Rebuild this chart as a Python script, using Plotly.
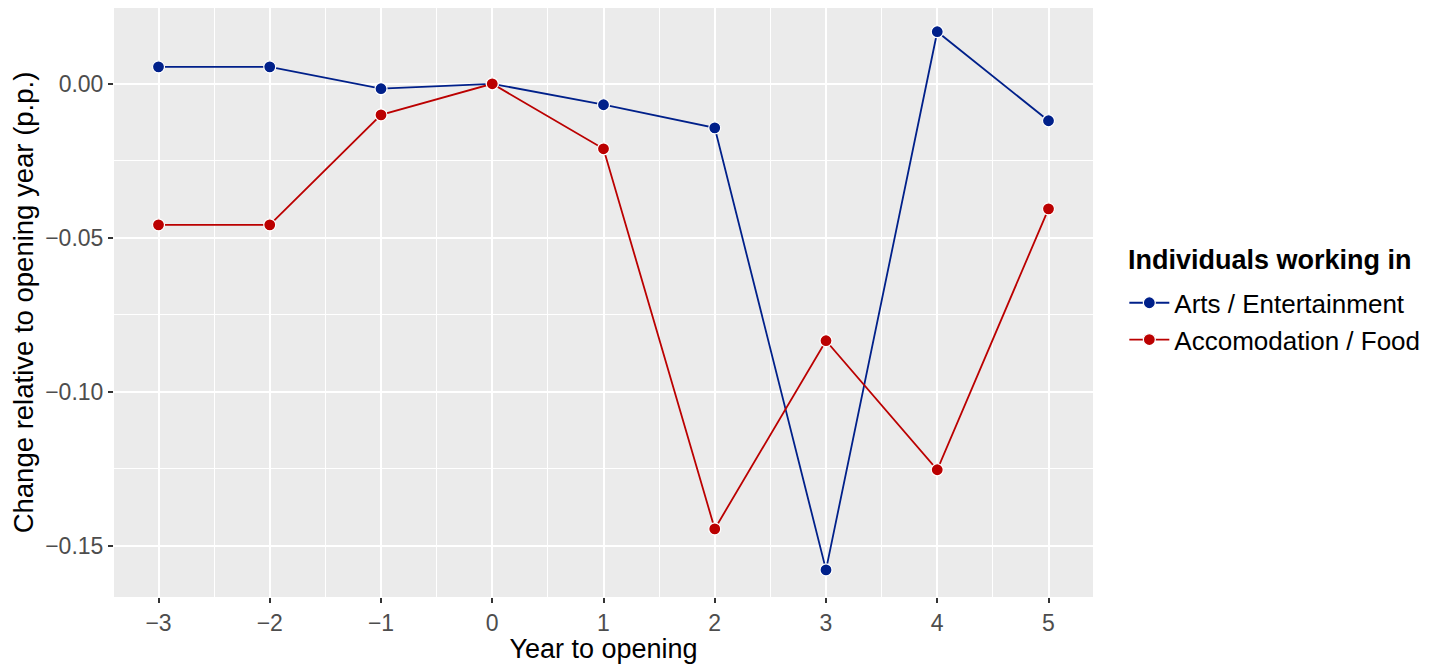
import plotly.graph_objects as go

years = [-3, -2, -1, 0, 1, 2, 3, 4, 5]
arts = [0.0055, 0.0055, -0.0016, 0.0, -0.0068, -0.0143, -0.1578, 0.0169, -0.0120]
food = [-0.0458, -0.0458, -0.0101, 0.0, -0.0211, -0.1445, -0.0834, -0.1253, -0.0406]
series_names = ["Arts / Entertainment", "Accomodation / Food"]
series_colors = ["#00208A", "#BB0000"]
x_ticks = [-3, -2, -1, 0, 1, 2, 3, 4, 5]
x_ticktext = ["\u22123", "\u22122", "\u22121", "0", "1", "2", "3", "4", "5"]
y_ticks = [0.0, -0.05, -0.10, -0.15]
y_ticktext = ["0.00", "\u22120.05", "\u22120.10", "\u22120.15"]

FONT = "Liberation Sans, Arial, Helvetica, sans-serif"

fig = go.Figure()
for name, vals, col in zip(series_names, [arts, food], series_colors):
    fig.add_trace(go.Scatter(
        x=years, y=vals, name=name, mode="lines+markers",
        line=dict(color=col, width=1.8),
        marker=dict(color=col, size=12, line=dict(color="white", width=1.2)),
    ))

fig.add_shape(type="line", xref="paper", x0=0, x1=1, yref="y", y0=0, y1=0,
              line=dict(color="#707070", width=1.5, dash="dash"), layer="below")
fig.add_shape(type="line", xref="x", x0=0, x1=0, yref="paper", y0=0, y1=1,
              line=dict(color="black", width=1.5), layer="below")

fig.add_annotation(text="<b>Individuals working in</b>", xref="paper", yref="paper",
                   x=1.0337, y=0.572, xanchor="left", yanchor="middle", showarrow=False,
                   font=dict(size=27, color="black", family=FONT))

fig.update_layout(
    width=1431, height=656,
    margin=dict(l=106, r=346, t=0, b=67),
    paper_bgcolor="white", plot_bgcolor="#EBEBEB",
    font=dict(family=FONT, color="black"),
    showlegend=True,
    legend=dict(
        font=dict(size=26, color="black"),
        x=1.032, xanchor="left", y=0.468, yanchor="middle",
        bgcolor="rgba(0,0,0,0)", itemwidth=40, tracegroupgap=0,
    ),
    xaxis=dict(
        range=[-3.4, 5.4], tickvals=x_ticks, ticktext=x_ticktext,
        showgrid=True, gridcolor="white", gridwidth=1.8,
        minor=dict(dtick=0.5, showgrid=True, gridcolor="white", gridwidth=0.8, tick0=-2.5),
        ticks="outside", ticklen=5, tickcolor="#333333", tickwidth=1.5,
        tickfont=dict(size=23, color="#4D4D4D"),
        title=dict(text="Year to opening", font=dict(size=27, color="black"), standoff=1),
        zeroline=False, showline=False,
    ),
    yaxis=dict(
        range=[-0.1666, 0.0246], tickvals=y_ticks, ticktext=y_ticktext,
        showgrid=True, gridcolor="white", gridwidth=1.8,
        minor=dict(dtick=0.025, showgrid=True, gridcolor="white", gridwidth=0.8, tick0=0.025),
        ticks="outside", ticklen=5, tickcolor="#333333", tickwidth=1.5,
        tickfont=dict(size=23, color="#4D4D4D"),
        title=dict(text="Change relative to opening year (p.p.)", font=dict(size=27.5, color="black"), standoff=6),
        zeroline=False, showline=False,
    ),
)

fig.write_html("out.html")
